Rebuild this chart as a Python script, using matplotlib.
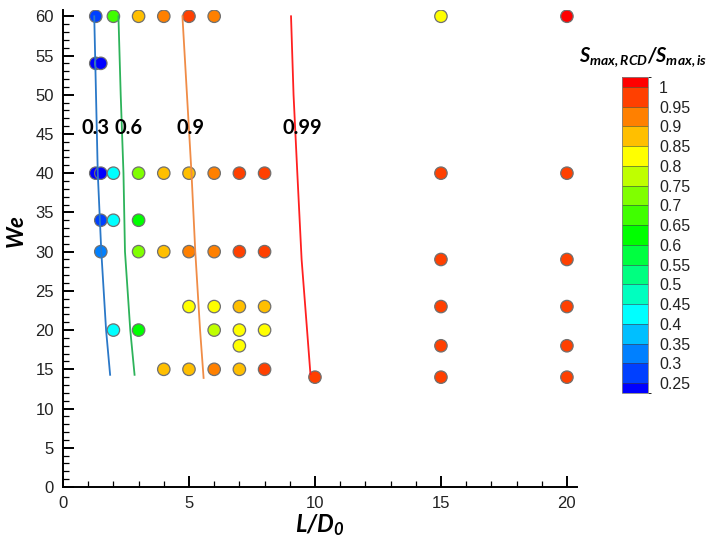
import numpy as np
import matplotlib
matplotlib.use("Agg")
import matplotlib.pyplot as plt
import matplotlib as mpl
from matplotlib.colors import ListedColormap, BoundaryNorm, hsv_to_rgb

# ---------------- data ----------------
L_D = [1.3, 2, 3, 4, 5, 6, 15, 20,
       1.3, 1.5,
       1.3, 1.5, 2, 3, 4, 5, 6, 7, 8, 15, 20,
       1.5, 2, 3,
       1.5, 3, 4, 5, 6, 7, 8, 15, 20,
       5, 6, 7, 8, 15, 20,
       2, 3, 6, 7, 8,
       7, 15, 20,
       4, 5, 6, 7, 8,
       10, 15, 20]
We = [60, 60, 60, 60, 60, 60, 60, 60,
      54, 54,
      40, 40, 40, 40, 40, 40, 40, 40, 40, 40, 40,
      34, 34, 34,
      30, 30, 30, 30, 30, 30, 30, 29, 29,
      23, 23, 23, 23, 23, 23,
      20, 20, 20, 20, 20,
      18, 18, 18,
      15, 15, 15, 15, 15,
      14, 14, 14]
ratio = [0.28, 0.68, 0.87, 0.92, 0.97, 0.92, 0.82, 1.01,
         0.24, 0.24,
         0.24, 0.24, 0.42, 0.72, 0.87, 0.87, 0.92, 0.97, 0.97, 0.97, 0.97,
         0.28, 0.42, 0.62,
         0.32, 0.72, 0.87, 0.92, 0.92, 0.97, 0.97, 0.97, 0.97,
         0.82, 0.82, 0.87, 0.87, 0.97, 0.97,
         0.42, 0.62, 0.77, 0.82, 0.82,
         0.82, 0.97, 0.97,
         0.87, 0.87, 0.92, 0.87, 0.97,
         0.97, 0.97, 0.97]

# iso-lines
iso_labels = ["0.3", "0.6", "0.9", "0.99"]
iso_x = [[1.24, 1.31, 1.38, 1.52, 1.71, 1.87],
         [2.20, 2.29, 2.40, 2.46, 2.67, 2.84],
         [4.74, 4.92, 5.10, 5.25, 5.44, 5.58],
         [9.05, 9.15, 9.30, 9.47, 9.67, 9.82]]
iso_we = [[60, 50, 40, 30, 20, 14.3],
          [60, 50, 40, 30, 20, 14.3],
          [60, 50, 40, 30, 20, 13.9],
          [60, 50, 40, 29, 20.7, 14.4]]
iso_label_x = [1.3, 2.6, 5.07, 9.5]
iso_label_we = [45.8, 45.8, 45.8, 45.8]
iso_colors = ["#2a78c8", "#2db35a", "#f08c46", "#ff2020"]

# colour legend
cbar_bounds = [0.225, 0.25, 0.30, 0.35, 0.40, 0.45, 0.50, 0.55, 0.60,
               0.65, 0.70, 0.75, 0.80, 0.85, 0.90, 0.95, 1.00, 1.025]
cbar_ticks = [0.25, 0.30, 0.35, 0.40, 0.45, 0.50, 0.55, 0.60,
              0.65, 0.70, 0.75, 0.80, 0.85, 0.90, 0.95, 1.00]
cbar_ticklabels = ["0.25", "0.3", "0.35", "0.4", "0.45", "0.5", "0.55", "0.6",
                   "0.65", "0.7", "0.75", "0.8", "0.85", "0.9", "0.95", "1"]

# ---------------- style ----------------
plt.rcParams["font.family"] = ["Liberation Sans", "DejaVu Sans"]
plt.rcParams["mathtext.fontset"] = "custom"
plt.rcParams["mathtext.rm"] = "Lato:italic:bold"
plt.rcParams["mathtext.it"] = "Lato:italic:bold"
plt.rcParams["mathtext.bf"] = "Lato:italic:bold"

ncol = len(cbar_bounds) - 1
hues = np.linspace(240, 0, ncol) / 360.0
colors = [hsv_to_rgb((h, 1.0, 1.0)) for h in hues]
cmap = ListedColormap(colors)
norm = BoundaryNorm(cbar_bounds, cmap.N)

fig = plt.figure(figsize=(7.08, 5.40), dpi=100)
ax = fig.add_axes([63 / 708, (540 - 487) / 540, 514 / 708, 477 / 540])

ax.scatter(L_D, We, c=ratio, cmap=cmap, norm=norm, s=80,
           edgecolors="#707070", linewidths=0.9, zorder=2)

for xs, ys, col in zip(iso_x, iso_we, iso_colors):
    ax.plot(xs, ys, color=col, lw=1.3, zorder=3)
for lab, lx, ly in zip(iso_labels, iso_label_x, iso_label_we):
    ax.text(lx, ly, lab, ha="center", va="center", fontsize=14.5,
            fontweight="bold", family=["Lato", "DejaVu Sans"], color="black", zorder=4)

ax.set_xlim(0, 20.4)
ax.set_ylim(0, 60.8)
ax.set_xticks([0, 5, 10, 15, 20])
ax.set_yticks([0, 5, 10, 15, 20, 25, 30, 35, 40, 45, 50, 55, 60])
ax.xaxis.set_minor_locator(mpl.ticker.MultipleLocator(1))
ax.yaxis.set_minor_locator(mpl.ticker.MultipleLocator(1))
ax.tick_params(which="major", direction="in", length=8, width=1.4,
               labelsize=12, pad=6.5, labelcolor="#222222")
ax.tick_params(which="minor", direction="in", length=4, width=0.9)
for s in ["top", "right"]:
    ax.spines[s].set_visible(False)
for s in ["left", "bottom"]:
    ax.spines[s].set_linewidth(1.4)

ax.set_xlabel(r"$L/D_0$", fontsize=17)
ax.xaxis.set_label_coords((320 - 63) / 514, (487 - 512) / 477)
ax.set_ylabel(r"$We$", fontsize=16)
ax.yaxis.set_label_coords((29 - 63) / 514, (487 - 232) / 477)

# colour legend
cax = fig.add_axes([622 / 708, (540 - 393) / 540, 26 / 708, 316 / 540])
cb = mpl.colorbar.ColorbarBase(cax, cmap=cmap, norm=norm, boundaries=cbar_bounds,
                               ticks=cbar_ticks, spacing="proportional",
                               drawedges=True, orientation="vertical")
cb.set_ticklabels(cbar_ticklabels)
cb.dividers.set_color("#404040")
cb.dividers.set_linewidth(0.4)
cb.outline.set_edgecolor("#808080")
cb.outline.set_linewidth(0.6)
cax.tick_params(length=0, labelsize=11.5, pad=8, labelcolor="#222222")

fig.text(643 / 708, 1 - 57 / 540, r"$S_{max,RCD}/S_{max,is}$", ha="center",
         va="center", fontsize=14.3)

fig.savefig("out.png", dpi=100)
